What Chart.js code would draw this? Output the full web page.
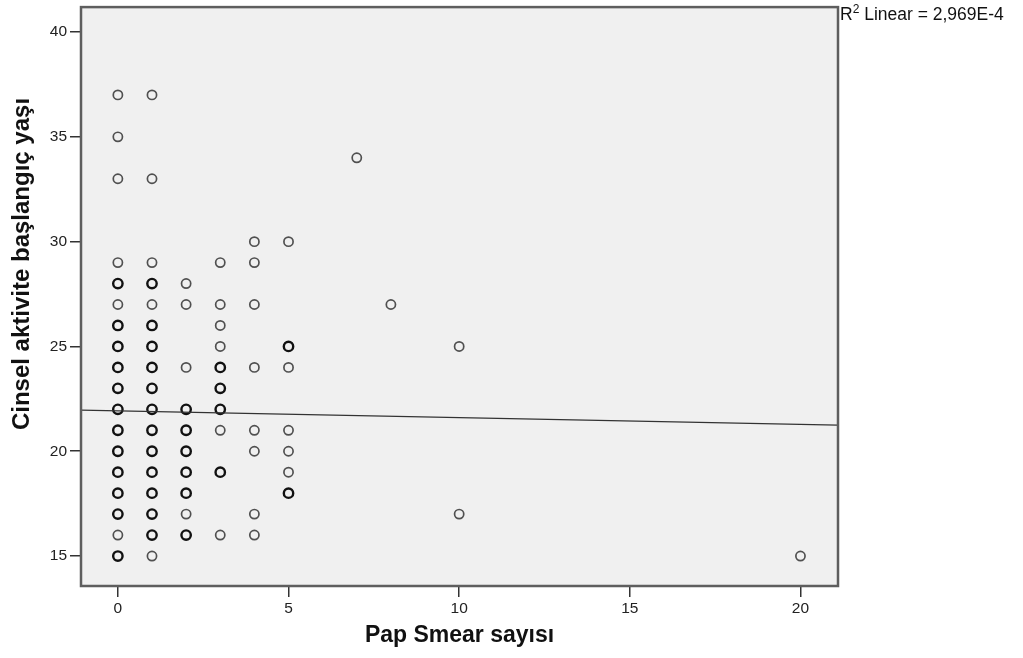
<!DOCTYPE html>
<html>
<head>
<meta charset="utf-8">
<script src="https://cdn.jsdelivr.net/npm/chart.js@4"></script>
<style>
  body { margin: 0; background: #fff; }
  #wrap { width: 1023px; height: 658px; position: relative; }
</style>
</head>
<body>
<div id="wrap"><canvas id="myChart"></canvas></div>
<script>
  // cases drawn once (light circles)
  const singleX = [0, 0, 0, 0, 0, 0,
                   1, 1, 1, 1, 1,
                   2, 2, 2, 2,
                   3, 3, 3, 3, 3, 3,
                   4, 4, 4, 4, 4, 4, 4, 4,
                   5, 5, 5, 5, 5,
                   7, 8, 10, 10, 20];
  const singleY = [37, 35, 33, 29, 27, 16,
                   37, 33, 29, 27, 15,
                   28, 27, 24, 17,
                   29, 27, 26, 25, 21, 16,
                   30, 29, 27, 24, 21, 20, 17, 16,
                   30, 24, 21, 20, 19,
                   34, 27, 25, 17, 15];

  // overlapping cases (dark circles)
  const multiX = [0, 0, 0, 0, 0, 0, 0, 0, 0, 0, 0, 0,
                  1, 1, 1, 1, 1, 1, 1, 1, 1, 1, 1, 1,
                  2, 2, 2, 2, 2, 2,
                  3, 3, 3, 3,
                  5, 5];
  const multiY = [28, 26, 25, 24, 23, 22, 21, 20, 19, 18, 17, 15,
                  28, 26, 25, 24, 23, 22, 21, 20, 19, 18, 17, 16,
                  22, 21, 20, 19, 18, 16,
                  24, 23, 22, 19,
                  25, 18];

  const xTicks = [0, 5, 10, 15, 20];
  const yTicks = [15, 20, 25, 30, 35, 40];
  const xRange = [-1.08, 21.1];
  const yRange = [13.57, 41.19];

  // linear fit: intercept, slope
  const fit = [21.93, -0.0324];
  const r2Label = '2,969E-4';
  const yTitle = 'Cinsel aktivite başlangıç yaşı';

  const toPoints = (xs, ys) => xs.map((x, i) => ({ x: x, y: ys[i] }));
  const fitLine = xRange.map(x => ({ x: x, y: fit[0] + fit[1] * x }));

  const frame = {
    id: 'frame',
    beforeDatasetsDraw(chart) {
      const a = chart.chartArea, c = chart.ctx;
      c.save();
      c.fillStyle = '#f0f0f0';
      c.fillRect(a.left, a.top, a.right - a.left, a.bottom - a.top);
      c.restore();
    },
    afterDraw(chart) {
      const a = chart.chartArea, c = chart.ctx;
      c.save();
      c.strokeStyle = '#5e5e5e';
      c.lineWidth = 2.5;
      c.strokeRect(a.left, a.top, a.right - a.left, a.bottom - a.top);
      // R2 label
      c.fillStyle = '#111';
      c.textBaseline = 'alphabetic';
      c.font = '17.5px "Liberation Sans", Arial, sans-serif';
      let x = a.right + 2;
      c.fillText('R', x, 20);
      x += c.measureText('R').width;
      c.font = '12px "Liberation Sans", Arial, sans-serif';
      c.fillText('2', x, 13);
      x += c.measureText('2').width;
      c.font = '17.5px "Liberation Sans", Arial, sans-serif';
      c.fillText(' Linear = ' + r2Label, x, 20);
      // y axis title (sits above the axis centre in the original)
      c.translate(22, 264);
      c.rotate(-Math.PI / 2);
      c.textAlign = 'center';
      c.textBaseline = 'middle';
      c.font = 'bold 24px "Liberation Sans", Arial, sans-serif';
      c.fillText(yTitle, 0, 0);
      c.restore();
    }
  };

  const ctx = document.getElementById('myChart');

  new Chart(ctx, {
    type: 'scatter',
    data: {
      datasets: [
        {
          type: 'line',
          label: 'fit',
          data: fitLine,
          borderColor: '#333',
          borderWidth: 1.3,
          pointRadius: 0,
          fill: false
        },
        {
          label: 'single',
          data: toPoints(singleX, singleY),
          pointStyle: 'circle',
          pointRadius: 4.6,
          borderWidth: 1.7,
          borderColor: '#505050',
          backgroundColor: 'rgba(0,0,0,0)'
        },
        {
          label: 'multi',
          data: toPoints(multiX, multiY),
          pointStyle: 'circle',
          pointRadius: 4.7,
          borderWidth: 2.4,
          borderColor: '#111',
          backgroundColor: 'rgba(0,0,0,0)'
        }
      ]
    },
    options: {
      responsive: true,
      maintainAspectRatio: false,
      animation: false,
      layout: { padding: { top: 1, right: 185, bottom: 0, left: 0 } },
      plugins: {
        legend: { display: false },
        tooltip: { enabled: false }
      },
      scales: {
        x: {
          type: 'linear',
          min: xRange[0],
          max: xRange[1],
          afterFit: s => { s.height = 72; s.paddingLeft = 0; s.paddingRight = 0; },
          afterBuildTicks: s => { s.ticks = xTicks.map(v => ({ value: v })); },
          border: { display: false },
          grid: { drawOnChartArea: false, drawTicks: true, tickLength: 11, color: '#333', lineWidth: 1.5 },
          ticks: { padding: 2, color: '#222', font: { family: '"Liberation Sans", Arial', size: 15.5 } },
          title: {
            display: true,
            text: 'Pap Smear sayısı',
            color: '#111',
            padding: { top: 0, bottom: 9 },
            font: { family: '"Liberation Sans", Arial', size: 23, weight: 'bold' }
          }
        },
        y: {
          type: 'linear',
          min: yRange[0],
          max: yRange[1],
          afterFit: s => { s.width = 81; s.paddingTop = 0; s.paddingBottom = 0; },
          afterBuildTicks: s => { s.ticks = yTicks.map(v => ({ value: v })); },
          border: { display: false },
          grid: { drawOnChartArea: false, drawTicks: true, tickLength: 11, color: '#333', lineWidth: 1.5 },
          ticks: { padding: 3, color: '#222', font: { family: '"Liberation Sans", Arial', size: 15.5 } }
        }
      }
    },
    plugins: [frame]
  });
</script>
</body>
</html>
